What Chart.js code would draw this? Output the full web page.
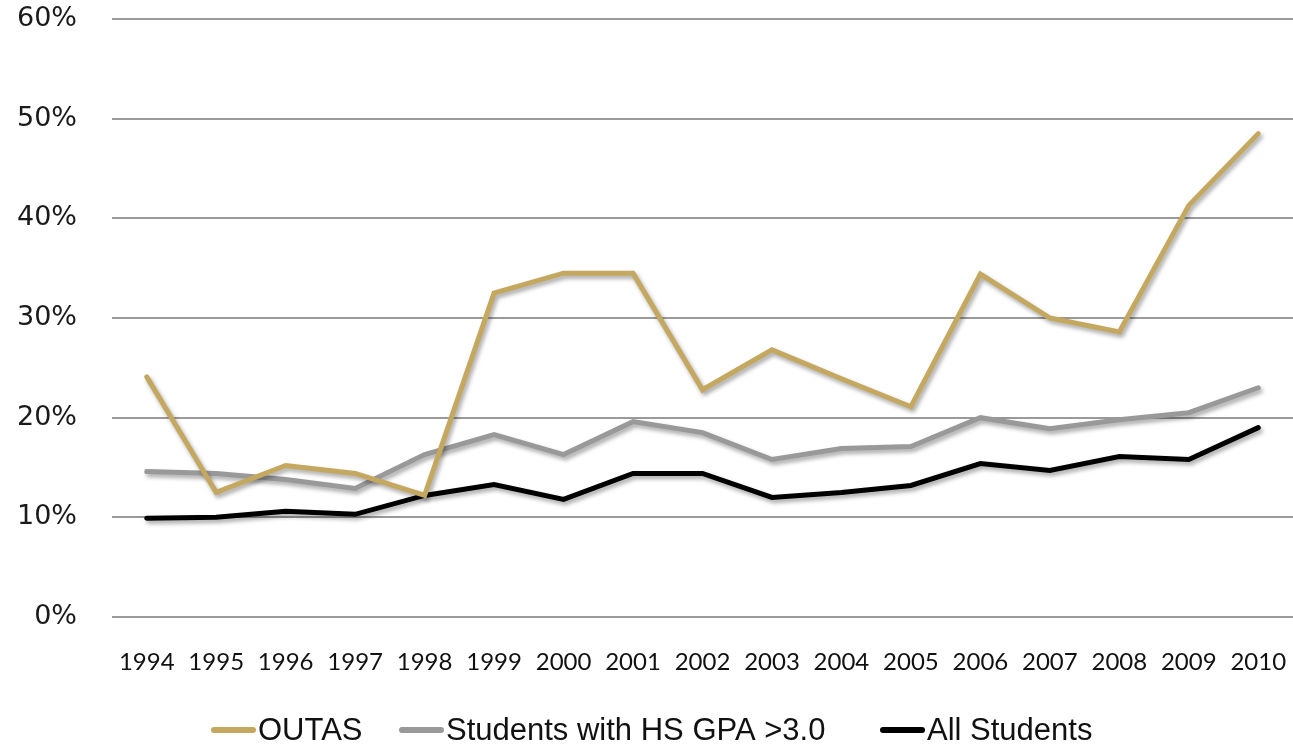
<!DOCTYPE html>
<html lang="en">
<head>
    <meta charset="UTF-8">
    <title>OUTAS vs Students</title>
    <script src="https://cdn.jsdelivr.net/npm/chart.js@4/dist/chart.umd.min.js"></script>
    <style>
        html, body { margin: 0; padding: 0; background: #fff; }
        #wrap { width: 1293px; height: 753px; }
    </style>
</head>
<body>
<div id="wrap"><canvas id="myChart"></canvas></div>

<script>
    // Data (percent)
    const years = ['1994', '1995', '1996', '1997', '1998', '1999', '2000', '2001', '2002',
                   '2003', '2004', '2005', '2006', '2007', '2008', '2009', '2010'];
    const outas = [24.1, 12.5, 15.2, 14.4, 12.2, 32.5, 34.5, 34.5, 22.8, 26.8, 23.9, 21.1, 34.4, 30.0, 28.6, 41.3, 48.5];
    const gpaOver3 = [14.6, 14.4, 13.8, 12.9, 16.3, 18.3, 16.3, 19.6, 18.5, 15.8, 16.9, 17.1, 20.0, 18.9, 19.8, 20.5, 23.0];
    const allStudents = [9.9, 10.0, 10.6, 10.3, 12.2, 13.3, 11.8, 14.4, 14.4, 12.0, 12.5, 13.2, 15.4, 14.7, 16.1, 15.8, 19.0];
    const yTicks = [0, 10, 20, 30, 40, 50, 60];

    const xFont = 'Lato, "Open Sans", sans-serif';
    const legendFont = '"Liberation Sans Narrow", "Arial Narrow", sans-serif';

    // soft drop shadow under each line
    const shadowPlugin = {
        id: 'lineShadow',
        beforeDatasetDraw(chart) {
            const ctx = chart.ctx;
            ctx.save();
            ctx.shadowColor = 'rgba(0,0,0,0.35)';
            ctx.shadowBlur = 4;
            ctx.shadowOffsetX = 2;
            ctx.shadowOffsetY = 3;
        },
        afterDatasetDraw(chart) {
            chart.ctx.restore();
        }
    };

    // legend with the line swatch right next to the text
    const bottomLegend = {
        id: 'bottomLegend',
        afterDraw(chart) {
            const ctx = chart.ctx;
            const textStarts = [258, 446, 927];
            ctx.save();
            ctx.font = '31px ' + legendFont;
            ctx.textBaseline = 'middle';
            chart.data.datasets.forEach((ds, i) => {
                const x = textStarts[i];
                const y = 730;
                ctx.strokeStyle = ds.borderColor;
                ctx.lineWidth = 6;
                ctx.lineCap = 'round';
                ctx.beginPath();
                ctx.moveTo(x - 44, y);
                ctx.lineTo(x - 5, y);
                ctx.stroke();
                ctx.fillStyle = '#111';
                ctx.fillText(ds.label, x, y + 1);
            });
            ctx.restore();
        }
    };

    const ctx = document.getElementById('myChart').getContext('2d');
    const chart = new Chart(ctx, {
        type: 'line',
        data: {
            labels: years,
            datasets: [
                { label: 'OUTAS', data: outas, borderColor: '#c4a860' },
                { label: 'Students with HS GPA >3.0', data: gpaOver3, borderColor: '#999999' },
                { label: 'All Students', data: allStudents, borderColor: '#000000' }
            ]
        },
        options: {
            responsive: true,
            maintainAspectRatio: false,
            animation: false,
            layout: { padding: { top: 19, right: 0, bottom: 0, left: 0 } },
            elements: {
                line: { borderWidth: 5, tension: 0, borderJoinStyle: 'miter', borderCapStyle: 'round' },
                point: { radius: 0 }
            },
            plugins: {
                legend: { display: false },
                tooltip: { enabled: false }
            },
            scales: {
                x: {
                    offset: true,
                    grid: { display: true, drawOnChartArea: false, tickLength: 31, tickColor: 'rgba(0,0,0,0)' },
                    border: { display: false },
                    ticks: {
                        padding: 0,
                        maxRotation: 0,
                        autoSkip: false,
                        color: '#111',
                        font: { family: xFont, size: 24 }
                    },
                    afterFit(axis) { axis.height = 136; }
                },
                y: {
                    min: 0,
                    max: 60,
                    afterBuildTicks(axis) { axis.ticks = yTicks.map(v => ({ value: v })); },
                    grid: { color: '#9a9a9a', lineWidth: 2, drawTicks: true, tickLength: 35, tickColor: 'rgba(0,0,0,0)' },
                    border: { display: false },
                    ticks: {
                        padding: 0,
                        color: '#1a1a1a',
                        font: { family: '"DejaVu Sans", sans-serif', size: 27, lineHeight: 1 },
                        callback: v => v + '%'
                    },
                    afterFit(axis) { axis.width = 112; }
                }
            }
        },
        plugins: [shadowPlugin, bottomLegend]
    });
</script>
</body>
</html>
